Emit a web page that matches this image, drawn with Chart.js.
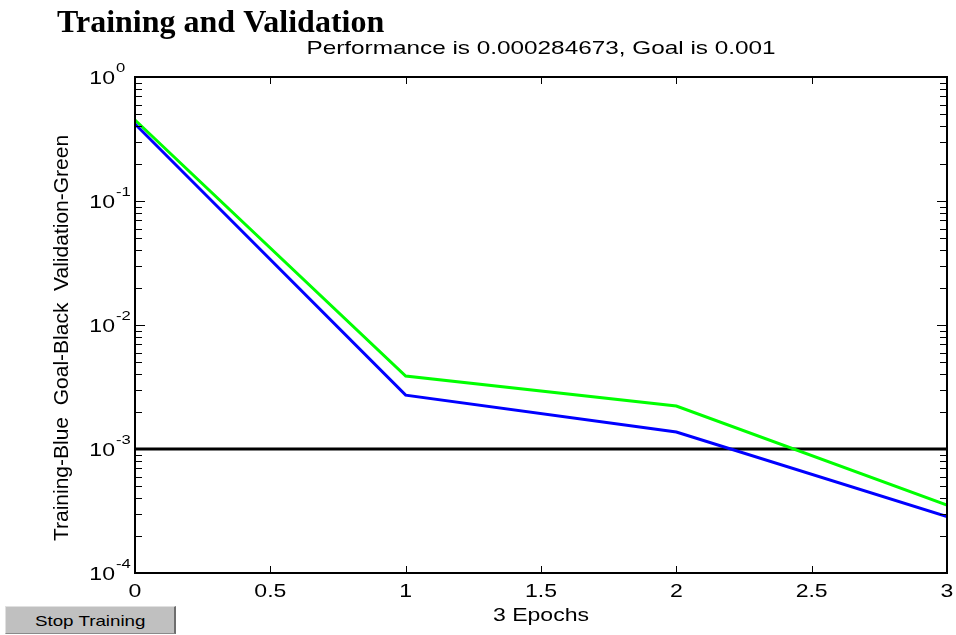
<!DOCTYPE html>
<html>
<head>
<meta charset="utf-8">
<script src="https://cdn.jsdelivr.net/npm/chart.js@4"></script>
<style>
  html, body { margin: 0; padding: 0; background: #ffffff; }
  #wrap { position: relative; width: 956px; height: 635px; overflow: hidden; }
  #c { position: absolute; left: 0; top: 0; }
  #stop {
    position: absolute; left: 5px; top: 606px; width: 168px; height: 26px;
    background: #c0c0c0; border-right: 2px solid #6e6e6e; border-bottom: 1px solid #8a8a8a;
    border-top: 1px solid #e0e0e0; border-left: 1px solid #e0e0e0;
    font: 15px "Liberation Sans", Arial, sans-serif; color: #000;
    display: flex; align-items: center; justify-content: center;
  }
  #stop span { display: inline-block; transform: scaleX(1.25); }
</style>
</head>
<body>
<div id="wrap">
  <canvas id="c" width="956" height="635"></canvas>
  <div id="stop"><span>Stop Training</span></div>
</div>
<script>
// Performance per epoch
const epochs = [0, 1, 2, 3];
const trainingPerf = [0.418, 0.00272, 0.00137, 0.000284673];
const validationPerf = [0.45, 0.00388, 0.00222, 0.000353];
const goal = 0.001;

// Axis ticks
const xTicks = [0, 0.5, 1, 1.5, 2, 2.5, 3];
const xTickLabels = ['0', '0.5', '1', '1.5', '2', '2.5', '3'];
const yDecades = [-4, -3, -2, -1, 0];

const titleText = 'Training and Validation';
const subtitleText = 'Performance is 0.000284673, Goal is 0.001';
const xLabel = '3 Epochs';
const yLabel = 'Training-Blue  Goal-Black  Validation-Green';

const SANS = '"Liberation Sans", Arial, sans-serif';
const SX = 1.28; // horizontal stretch of axis text

function wideText(ctx, txt, x, y, align, sx) {
  ctx.save();
  ctx.translate(x, y);
  ctx.scale(sx, 1);
  ctx.textAlign = align;
  ctx.fillText(txt, 0, 0);
  ctx.restore();
}

const decorations = {
  id: 'decorations',
  afterDraw(chart) {
    const ctx = chart.ctx;
    const xs = chart.scales.x, ys = chart.scales.y;
    const a = chart.chartArea;
    ctx.save();
    ctx.fillStyle = '#000';
    ctx.strokeStyle = '#000';

    // inner ticks: x
    ctx.lineWidth = 1;
    xTicks.forEach(v => {
      const px = Math.round(xs.getPixelForValue(v)) + 0.5;
      ctx.beginPath();
      ctx.moveTo(px, a.bottom); ctx.lineTo(px, a.bottom - 7);
      ctx.moveTo(px, a.top); ctx.lineTo(px, a.top + 7);
      ctx.stroke();
    });
    // inner ticks: y (log minor + decades)
    for (let d = -4; d < 0; d++) {
      for (let m = 1; m <= 9; m++) {
        const v = m * Math.pow(10, d);
        const py = Math.round(ys.getPixelForValue(v)) + 0.5;
        const len = m === 1 ? 10 : 7;
        ctx.beginPath();
        ctx.moveTo(a.left, py); ctx.lineTo(a.left + len, py);
        ctx.moveTo(a.right, py); ctx.lineTo(a.right - len, py);
        ctx.stroke();
      }
    }

    // box
    ctx.lineWidth = 2;
    ctx.strokeRect(a.left, a.top, a.right - a.left, a.bottom - a.top);

    // x tick labels
    ctx.font = '18px ' + SANS;
    ctx.textBaseline = 'alphabetic';
    xTicks.forEach((v, i) => {
      wideText(ctx, xTickLabels[i], xs.getPixelForValue(v), a.bottom + 24, 'center', SX);
    });

    // y tick labels 10^k
    yDecades.forEach(k => {
      const py = ys.getPixelForValue(Math.pow(10, k));
      ctx.font = '18px ' + SANS;
      wideText(ctx, '10', 115, py + 7, 'right', SX);
      ctx.font = '13px ' + SANS;
      wideText(ctx, String(k), 116, py - 5, 'left', SX);
    });

    // x label
    ctx.font = '18px ' + SANS;
    wideText(ctx, xLabel, (a.left + a.right) / 2, a.bottom + 48, 'center', SX);

    // subtitle
    ctx.font = '19px ' + SANS;
    wideText(ctx, subtitleText, (a.left + a.right) / 2, 54, 'center', SX);

    // y label (rotated)
    ctx.save();
    ctx.translate(68, 338);
    ctx.rotate(-Math.PI / 2);
    ctx.font = '21px ' + SANS;
    ctx.textAlign = 'center';
    ctx.fillText(yLabel, 0, 0);
    ctx.restore();

    // title
    ctx.font = 'bold 32px "Liberation Serif", "Times New Roman", serif';
    ctx.textAlign = 'left';
    ctx.fillText(titleText, 57, 32);

    ctx.restore();
  }
};

const toPoints = arr => epochs.map((e, i) => ({ x: e, y: arr[i] }));

new Chart(document.getElementById('c'), {
  type: 'line',
  data: {
    datasets: [
      { label: 'Goal', data: [{ x: epochs[0], y: goal }, { x: epochs[epochs.length - 1], y: goal }],
        borderColor: '#000000', borderWidth: 3, pointRadius: 0, order: 3 },
      { label: 'Validation', data: toPoints(validationPerf),
        borderColor: '#00ff00', borderWidth: 3, pointRadius: 0, order: 2 },
      { label: 'Training', data: toPoints(trainingPerf),
        borderColor: '#0000ff', borderWidth: 3, pointRadius: 0, order: 1 }
    ]
  },
  options: {
    responsive: false,
    animation: false,
    layout: { padding: { left: 135, top: 77, right: 9, bottom: 62 } },
    plugins: { legend: { display: false }, title: { display: false }, tooltip: { enabled: false } },
    scales: {
      x: { type: 'linear', min: 0, max: 3, display: false },
      y: { type: 'logarithmic', min: 1e-4, max: 1, display: false }
    }
  },
  plugins: [decorations]
});
</script>
</body>
</html>
